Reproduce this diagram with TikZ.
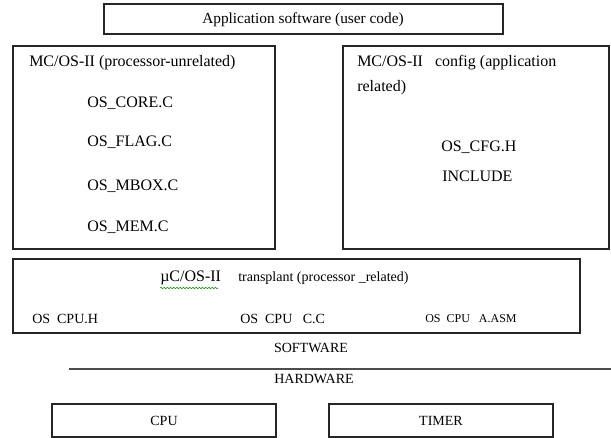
\documentclass[tikz,border=0pt]{standalone}
\usepackage{fontspec}
\setmainfont{Liberation Serif}
\usetikzlibrary{decorations.pathmorphing}

\tikzset{
    box/.style={draw=black!85, line width=0.9pt},
    label/.style={inner sep=0pt, anchor=west},
    small/.style={font=\fontsize{10.5}{12}\selectfont},
    tiny/.style={font=\fontsize{9}{10}\selectfont},
}

\begin{document}
\begin{tikzpicture}[x=0.75pt, y=-0.75pt, font=\fontsize{12}{14}\selectfont]
        \useasboundingbox (0,0) rectangle (611,438);

        % application layer
        \draw[box] (104,  4) rectangle (503,  34);
        \node[font=\fontsize{11.5}{13}\selectfont] (app) at (303, 20)
            {Application software (user code)};

        % processor-unrelated part
        \draw[box] (13, 46) rectangle (275, 249);
        \node[label] (corettl) at (29,  63) {MC/OS-II (processor-unrelated)};
        \node[label] (core)    at (87, 103) {OS\_CORE.C};
        \node[label] (flag)    at (87, 142) {OS\_FLAG.C};
        \node[label] (mbox)    at (87, 186) {OS\_MBOX.C};
        \node[label] (mem)     at (87, 227) {OS\_MEM.C};

        % configuration part
        \draw[box] (343, 46) rectangle (609, 249);
        \node[label] (cfgttl)  at (357,  63) {MC/OS-II\ \ \ config (application};
        \node[label] (cfgttl2) at (357,  88) {related)};
        \node[label] (cfg)     at (441, 147) {OS\_CFG.H};
        \node[label] (incl)    at (442, 176) {INCLUDE};

        % port part
        \draw[box] (13, 259) rectangle (580, 333);
        \node[label] (portname) at (160, 278) {µC/OS-II};
        \draw[green!55!black, decorate,
              decoration={snake, amplitude=0.5pt, segment length=2.4pt}]
            (160, 288) -- (218, 288);
        \node[label, small] (portttl) at (238, 278) {transplant (processor \_related)};
        \node[label, small] (cpuh)   at ( 32, 319) {OS\ \ CPU.H};
        \node[label, small] (cpuc)   at (240, 319) {OS\ \ CPU\ \ \ C.C};
        \node[label, tiny]  (cpuasm) at (425, 319) {OS\ \ CPU\ \ \ A.ASM};

        % software / hardware border
        \node[small] (sw) at (311, 348) {SOFTWARE};
        \coordinate (split1) at ( 69, 369);
        \coordinate (split2) at (611, 369);
        \draw[box, draw=black!70] (split1) -- (split2);
        \node[small] (hw) at (314, 379) {HARDWARE};

        % hardware
        \draw[box] ( 52, 404) rectangle (276, 437);
        \node[small] (cpu)   at (164, 421) {CPU};
        \draw[box] (329, 404) rectangle (553, 437);
        \node[small] (timer) at (441, 421) {TIMER};
    \end{tikzpicture}
\end{document}
